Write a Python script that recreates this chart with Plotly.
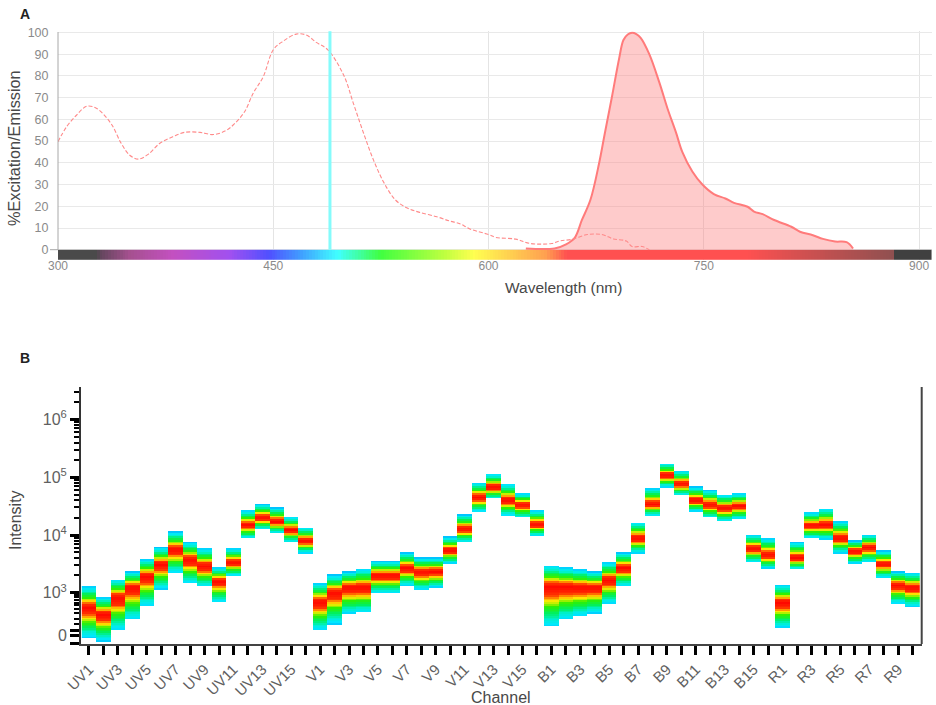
import numpy as np
import plotly.graph_objects as go

# ---------- Panel A data ----------
ex_nm = [300,306,313,320,327,337,344,350,356,363,371,380,388,399,408,417,423,430,436,443,450,457,466,473,480,488,499,506,513,520,527,535,543,552,564,573,580,587,600,605,619,629,644,650,658,669,679,687,696,700,707,712]
ex_val = [49.7,56.6,62,66,65,58,49,43.5,41.7,44,49,52,54,54,53,54.8,58,63.5,72,79.6,92,96,99.2,98.8,95.4,92,80.4,67,53.5,41,31,23,19.3,17.2,15.2,13.2,12,9.6,7,5.7,4.9,2.9,2.9,4.1,4.8,7,7,5,4,1.5,1.5,0]
em_nm = [626,646,654,660,665,671,677,681,686,691,694,697,700,703,706,712,719,724.7,730.6,735,742,749,757,765,771,780.5,785,791,799,811,817,826,833,841.5,849.5,854]
em_val = [0.6,0.6,2.5,5.5,13.6,23,39.7,53.5,70.4,88,96.5,99,99.8,99.2,97.5,90,77,65,54,45,36,30,25.6,23.6,21.6,19.8,17.6,16.4,13.7,10.6,8.3,6.7,5,3.8,3.5,0.6]
laser_nm = [489.5, 489.5]
laser_val = [0, 101]
spectrum_stops_nm = [300,327,329,350,380,420,447,470,495,510,525,570,590,640,655,780,820,882,884,909]
spectrum_colors = ["#4a4a4a","#4a4a4a","#60465a","#a5508f","#c350c0","#a050f0","#5050ff","#40a0ff","#40ffff","#40ffa0","#40ff40","#c0ff40","#ffff50","#ffa050","#ff5050","#ff5050","#d05050","#905050","#404040","#404040"]
a_yticks = [0,10,20,30,40,50,60,70,80,90,100]
a_xticks = [300,450,600,750,900]

# ---------- Panel B data (axis position in decades: 3 = 10^3) ----------
channels = [f"UV{i}" for i in range(1,17)] + [f"V{i}" for i in range(1,17)] + [f"B{i}" for i in range(1,17)] + [f"R{i}" for i in range(1,11)]
top = [3.10,2.92,3.23,3.36,3.58,3.78,4.05,3.87,3.76,3.43,3.76,4.42,4.53,4.47,4.31,4.13,
       3.16,3.30,3.36,3.41,3.54,3.54,3.69,3.60,3.60,3.96,4.35,4.90,5.06,4.88,4.72,4.42,
       3.47,3.43,3.40,3.36,3.52,3.69,4.22,4.81,5.24,5.11,4.83,4.77,4.70,4.72,4.00,3.94,
       3.13,3.87,4.39,4.46,4.24,3.90,4.00,3.72,3.36,3.34]
peak = [2.73,2.61,2.90,3.08,3.27,3.48,3.74,3.56,3.45,3.19,3.52,4.17,4.30,4.23,4.08,3.89,
        2.83,2.99,3.08,3.08,3.29,3.29,3.42,3.35,3.36,3.73,4.10,4.65,4.82,4.60,4.52,4.18,
        3.09,3.09,3.08,3.08,3.21,3.42,3.94,4.53,5.03,4.88,4.60,4.52,4.46,4.50,3.76,3.65,
        2.82,3.60,4.16,4.17,3.94,3.71,3.78,3.49,3.12,3.08]
bottom = [2.21,2.15,2.34,2.52,2.76,3.05,3.33,3.15,3.09,2.82,3.28,3.93,4.09,4.02,3.87,3.68,
          2.34,2.45,2.62,2.64,2.98,2.98,3.11,3.04,3.08,3.50,3.87,4.39,4.62,4.33,4.29,3.98,
          2.40,2.52,2.58,2.63,2.80,3.10,3.68,4.33,4.82,4.68,4.40,4.29,4.23,4.27,3.52,3.41,
          2.38,3.39,3.94,3.92,3.68,3.50,3.52,3.25,2.80,2.75]
jet_stops = [0, 0.07, 0.2, 0.34, 0.52, 0.6, 0.66, 0.73, 0.8, 1]
jet_colors = ["#00c4ff","#00e8ff","#00f0d0","#00f060","#30f000","#c0f000","#ffe800","#ff9000","#ff3000","#ff0800"]
b_major = [2.123,2.255,2.34,3,4,5,6]
b_major_text = ["","0","","10<sup>3</sup>","10<sup>4</sup>","10<sup>5</sup>","10<sup>6</sup>"]
b_minor = [2.45,2.55,2.65,2.72,2.78,2.83,2.88,2.92,2.96,
           3.3,3.48,3.6,3.7,3.78,3.85,3.9,3.95,
           4.3,4.48,4.6,4.7,4.78,4.85,4.9,4.95,
           5.3,5.48,5.6,5.7,5.78,5.85,5.9,5.95,
           6.3,6.48]

W, H = 936, 705
def dx(a, b): return [a/W, b/W]
def dy(a, b): return [1-b/H, 1-a/H]

fig = go.Figure()

# rainbow strip
strip_x = np.arange(300, 910, 2)
xr = spectrum_stops_nm
cs = [[(v-xr[0])/(xr[-1]-xr[0]), c] for v, c in zip(xr, spectrum_colors)]
fig.add_trace(go.Heatmap(x=strip_x, y=[-4.7, 0], z=[strip_x], colorscale=cs,
                         zmin=xr[0], zmax=xr[-1], showscale=False, hoverinfo="skip",
                         xaxis="x", yaxis="y"))
fig.add_trace(go.Scatter(x=em_nm, y=em_val, mode="lines", fill="tozeroy",
                         fillcolor="rgba(252,130,130,0.42)",
                         line=dict(color="#ff7b7b", width=2, shape="spline", smoothing=1.0),
                         xaxis="x", yaxis="y"))
fig.add_trace(go.Scatter(x=ex_nm, y=ex_val, mode="lines",
                         line=dict(color="#ff8a8a", width=1.1, dash="4px,2px", shape="spline", smoothing=1.0),
                         xaxis="x", yaxis="y"))
fig.add_trace(go.Scatter(x=laser_nm, y=laser_val, mode="lines",
                         line=dict(color="#85fbfb", width=3), xaxis="x", yaxis="y"))

# Panel B density columns
ygrid = np.arange(2.10, 5.30, 0.03)
z = np.full((len(ygrid), len(channels)), np.nan)
for j in range(len(channels)):
    for i, yv in enumerate(ygrid):
        if bottom[j] <= yv <= top[j]:
            if yv >= peak[j]:
                z[i, j] = (top[j]-yv)/(top[j]-peak[j])
            else:
                z[i, j] = (yv-bottom[j])/(peak[j]-bottom[j])
jet = [[s, c] for s, c in zip(jet_stops, jet_colors)]
fig.add_trace(go.Heatmap(x=list(range(len(channels))), y=ygrid, z=z, colorscale=jet, zmin=0, zmax=1,
                         showscale=False, hoverongaps=False, xaxis="x2", yaxis="y2"))

grid = "#e9e9e9"
labelc = "#8a8a8a"
darktxt = "#484848"
font_family = "Liberation Sans, Arial, sans-serif"

annots = [
    dict(text="<b>A</b>", x=25/W, y=1-14/H, font=dict(size=14, color="#222")),
    dict(text="<b>B</b>", x=25/W, y=1-358/H, font=dict(size=14, color="#222")),
    dict(text="Wavelength (nm)", x=563/W, y=1-288/H, font=dict(size=15.5, color=darktxt)),
    dict(text="%Excitation/Emission", x=14/W, y=1-148/H, textangle=-90, font=dict(size=16.3, color=darktxt)),
    dict(text="Intensity", x=15/W, y=1-520/H, textangle=-90, font=dict(size=16, color=darktxt)),
    dict(text="Channel", x=501/W, y=1-697/H, font=dict(size=16, color=darktxt)),
]
for a in annots:
    a.update(xref="paper", yref="paper", showarrow=False, xanchor="center", yanchor="middle")

fig.update_layout(
    width=W, height=H, autosize=False, showlegend=False,
    margin=dict(l=0, r=0, t=0, b=0, autoexpand=False), paper_bgcolor="white", plot_bgcolor="white",
    font=dict(family=font_family),
    annotations=annots,
    xaxis=dict(domain=dx(58, 932), range=[300, 909], anchor="y", tickmode="array", tickvals=a_xticks,
               showgrid=True, gridcolor="#e4e4e4", gridwidth=1, zeroline=False, showline=False, ticks="",
               ticklabelstandoff=-3, tickfont=dict(size=12, color=labelc)),
    yaxis=dict(domain=dy(31.3, 260), range=[-4.7, 100.5], anchor="x", tickmode="array", tickvals=a_yticks,
               showgrid=True, gridcolor=grid, gridwidth=1, zeroline=False, ticks="outside", ticklen=6,
               tickcolor="rgba(0,0,0,0)", tickfont=dict(size=12.5, color=labelc), showline=False),
    xaxis2=dict(domain=dx(81, 922), range=[-0.553, 57.65], anchor="y2", tickmode="array",
                tickvals=list(range(len(channels))),
                ticktext=[c if i % 2 == 0 else "" for i, c in enumerate(channels)],
                ticks="outside", ticklen=9, tickwidth=2.5, tickcolor="black", tickangle=-45,
                tickfont=dict(size=15, color="#606060"), showgrid=False, zeroline=False,
                showline=True, linecolor="#444", linewidth=2, mirror=False),
    yaxis2=dict(domain=dy(387, 643.7), range=[2.116, 6.565], anchor="x2", tickmode="array",
                tickvals=b_major, ticktext=b_major_text, ticks="outside", ticklen=9, tickwidth=2.5,
                tickcolor="black", tickfont=dict(size=16, color="#606060"), showgrid=False, zeroline=False,
                showline=True, linecolor="#333", linewidth=2,
                minor=dict(tickmode="array", tickvals=b_minor, ticks="outside", ticklen=5, tickwidth=1.5,
                           tickcolor="black", showgrid=False)),
    shapes=[
        dict(type="line", xref="paper", yref="paper", x0=50/W, x1=58/W, y0=1-249.7/H, y1=1-249.7/H,
             line=dict(color="#a8a8a8", width=1)),
        dict(type="line", xref="paper", yref="paper", x0=58/W, x1=58/W, y0=1-249.7/H, y1=1-32/H,
             line=dict(color="#a8a8a8", width=1)),
        dict(type="line", xref="paper", yref="paper", x0=921.7/W, x1=921.7/W, y0=1-644/H, y1=1-387/H,
             line=dict(color="#444", width=2)),
    ],
)
fig.write_html("out.html", config=dict(displayModeBar=False),
               post_script="document.body.style.margin='0';document.body.style.overflow='hidden';")
